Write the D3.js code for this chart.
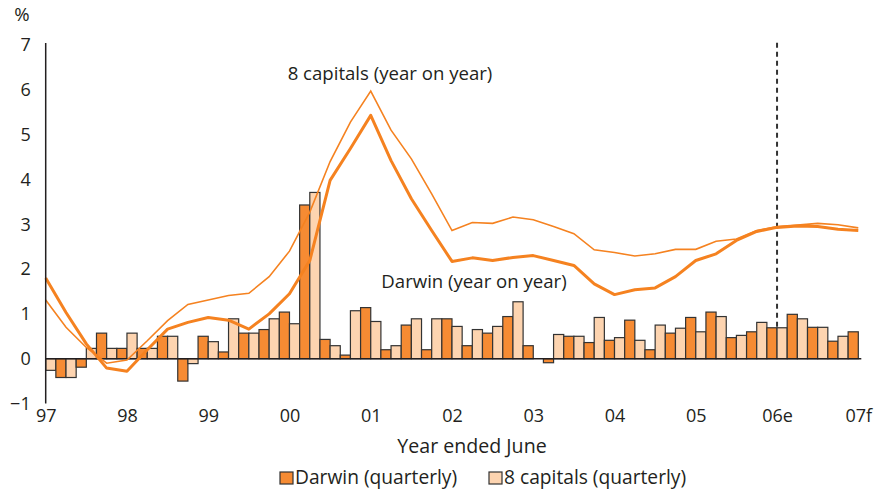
<!DOCTYPE html>
<html lang="en">
<head>
    <meta charset="UTF-8">
    <title>Darwin and 8 capitals inflation</title>
    <script src="https://d3js.org/d3.v7.min.js"></script>
    <style>
        body { margin: 0; background: #fff; }
        text { font-family: "Open Sans", sans-serif; fill: #231f20; }
        .tick text { font-size: 18px; }
        .label { font-size: 18.6px; }
        .big { font-size: 19.6px; }
        .legend-text { font-size: 19.2px; }
    </style>
</head>
<body>
    <svg width="877" height="490"></svg>

    <script>
        // year labels shown on the x axis (year ended June)
        const yearTicks = ["97", "98", "99", "00", "01", "02", "03", "04", "05", "06e", "07f"];

        // year-on-year lines, quarterly from Jun-97 to Jun-07 (41 points)
        const darwinYoY = [1.80, 1.03, 0.33, -0.21, -0.28, 0.20, 0.66, 0.81, 0.92, 0.86, 0.66,
            1.00, 1.45, 2.19, 3.98, 4.69, 5.43, 4.42, 3.57, 2.86, 2.17, 2.25, 2.19, 2.26, 2.30,
            2.19, 2.08, 1.67, 1.43, 1.54, 1.58, 1.83, 2.19, 2.34, 2.64, 2.84, 2.93, 2.96, 2.95,
            2.89, 2.86];
        const capitalsYoY = [1.31, 0.70, 0.25, -0.10, -0.03, 0.40, 0.85, 1.21, 1.31, 1.41, 1.46,
            1.83, 2.40, 3.27, 4.40, 5.28, 5.97, 5.10, 4.46, 3.68, 2.86, 3.04, 3.02, 3.16, 3.10,
            2.95, 2.79, 2.43, 2.37, 2.29, 2.34, 2.44, 2.44, 2.62, 2.67, 2.86, 2.95, 2.98, 3.02,
            2.99, 2.92];

        // quarterly changes (40 quarters)
        const darwinQtr = [-0.42, -0.19, 0.57, 0.23, 0.23, 0.50, -0.50, 0.50, 0.15, 0.57,
            0.65, 1.04, 3.43, 0.43, 0.08, 1.14, 0.20, 0.75, 0.20, 0.89,
            0.29, 0.57, 0.94, 0.29, -0.09, 0.50, 0.36, 0.41, 0.86, 0.20,
            0.57, 0.92, 1.04, 0.47, 0.60, 0.69, 0.99, 0.70, 0.39, 0.60];
        const capitalsQtr = [-0.26, -0.42, 0.23, 0.23, 0.57, 0.23, 0.50, -0.11, 0.38, 0.89,
            0.57, 0.89, 0.78, 3.71, 0.29, 1.07, 0.83, 0.29, 0.89, 0.89,
            0.72, 0.65, 0.72, 1.27, 0, 0.54, 0.50, 0.92, 0.47, 0.41,
            0.75, 0.68, 0.60, 0.94, 0.52, 0.81, 0.69, 0.89, 0.70, 0.50];

        const yTicks = [-1, 0, 1, 2, 3, 4, 5, 6, 7];

        // quarter labels Jun-97 ... Jun-07
        const quarters = [];
        for (let i = 0; i <= 40; i++) {
            const m = ["Jun", "Sep", "Dec", "Mar"][i % 4];
            const yr = 1997 + Math.floor((i + 2) / 4);
            quarters.push(m + "-" + String(yr).slice(2));
        }

        const darkOrange = "#f68b33";
        const lightOrange = "#fdd4b0";
        const lineOrange = "#f58220";

        const svg = d3.select("svg");
        const left = 45.7, right = 858.3;

        const x = d3.scalePoint().domain(quarters).range([left, right]);
        const xBand = d3.scaleBand().domain(quarters.slice(1)).range([left, right]);
        const xSub = d3.scaleBand().domain(["capitals", "darwin"]).range([0, xBand.bandwidth()]);
        const y = d3.scaleLinear().domain([-1, 7]).range([403.5, 45]);

        // dashed forecast marker at 06e
        svg.append("line")
            .attr("x1", x("Jun-06")).attr("x2", x("Jun-06"))
            .attr("y1", y(7.05)).attr("y2", y(0))
            .attr("stroke", "#333").attr("stroke-width", 2)
            .attr("stroke-dasharray", "5,4");

        // bars
        const barData = quarters.slice(1).map((q, i) => ({ q: q, darwin: darwinQtr[i], capitals: capitalsQtr[i] }));
        const groups = svg.append("g").selectAll("g")
            .data(barData)
            .enter().append("g")
            .attr("transform", d => `translate(${xBand(d.q)},0)`);

        groups.selectAll("rect")
            .data(d => [{ k: "capitals", v: d.capitals }, { k: "darwin", v: d.darwin }])
            .enter().append("rect")
            .filter(d => d.v !== 0)
            .attr("x", d => xSub(d.k))
            .attr("width", xSub.bandwidth())
            .attr("y", d => y(Math.max(0, d.v)))
            .attr("height", d => Math.abs(y(d.v) - y(0)))
            .attr("fill", d => d.k === "darwin" ? darkOrange : lightOrange)
            .attr("stroke", "#333")
            .attr("stroke-width", 1.2);

        // zero line
        svg.append("line")
            .attr("x1", left).attr("x2", right + 3)
            .attr("y1", y(0)).attr("y2", y(0))
            .attr("stroke", "#231f20").attr("stroke-width", 1.5);

        // year-on-year lines
        const line = d3.line()
            .x((d, i) => x(quarters[i]))
            .y(d => y(d));

        svg.append("path")
            .datum(capitalsYoY)
            .attr("d", line)
            .attr("fill", "none")
            .attr("stroke", lineOrange)
            .attr("stroke-width", 1.6);

        svg.append("path")
            .datum(darwinYoY)
            .attr("d", line)
            .attr("fill", "none")
            .attr("stroke", lineOrange)
            .attr("stroke-width", 3)
            .attr("stroke-linejoin", "round");

        // y axis
        const yAxis = svg.append("g")
            .attr("transform", `translate(${left},0)`)
            .call(d3.axisLeft(y).tickValues(yTicks).tickSize(0).tickPadding(15).tickFormat(d3.format("d")));
        yAxis.select(".domain").attr("stroke", "#231f20").attr("stroke-width", 1.5)
            .attr("d", `M0,${y(7) - 2}V${y(-1)}`);

        svg.append("text")
            .attr("class", "label")
            .attr("x", 22).attr("y", 21)
            .attr("text-anchor", "middle")
            .text("%");

        // x axis (labels only)
        const juneQuarters = quarters.filter((q, i) => i % 4 === 0);
        const xAxis = svg.append("g")
            .attr("transform", `translate(0,${y(-1)})`)
            .call(d3.axisBottom(x).tickValues(juneQuarters).tickSize(0).tickPadding(6)
                .tickFormat((d, i) => yearTicks[i]));
        xAxis.select(".domain").remove();

        svg.append("text")
            .attr("class", "big")
            .attr("x", 472).attr("y", 453)
            .attr("text-anchor", "middle")
            .text("Year ended June");

        // line annotations
        svg.append("text")
            .attr("class", "label")
            .attr("x", 390).attr("y", 80)
            .attr("text-anchor", "middle")
            .text("8 capitals (year on year)");

        svg.append("text")
            .attr("class", "label")
            .attr("x", 474).attr("y", 288)
            .attr("text-anchor", "middle")
            .text("Darwin (year on year)");

        // legend
        const legendItems = [
            { name: "Darwin (quarterly)", color: darkOrange, x: 280 },
            { name: "8 capitals (quarterly)", color: lightOrange, x: 489 }
        ];
        const legend = svg.append("g").selectAll("g")
            .data(legendItems)
            .enter().append("g")
            .attr("transform", d => `translate(${d.x},472)`);
        legend.append("rect")
            .attr("width", 13).attr("height", 12)
            .attr("fill", d => d.color)
            .attr("stroke", "#333").attr("stroke-width", 1.2);
        legend.append("text")
            .attr("class", "legend-text")
            .attr("x", 15).attr("y", 12)
            .text(d => d.name);
    </script>
</body>
</html>
